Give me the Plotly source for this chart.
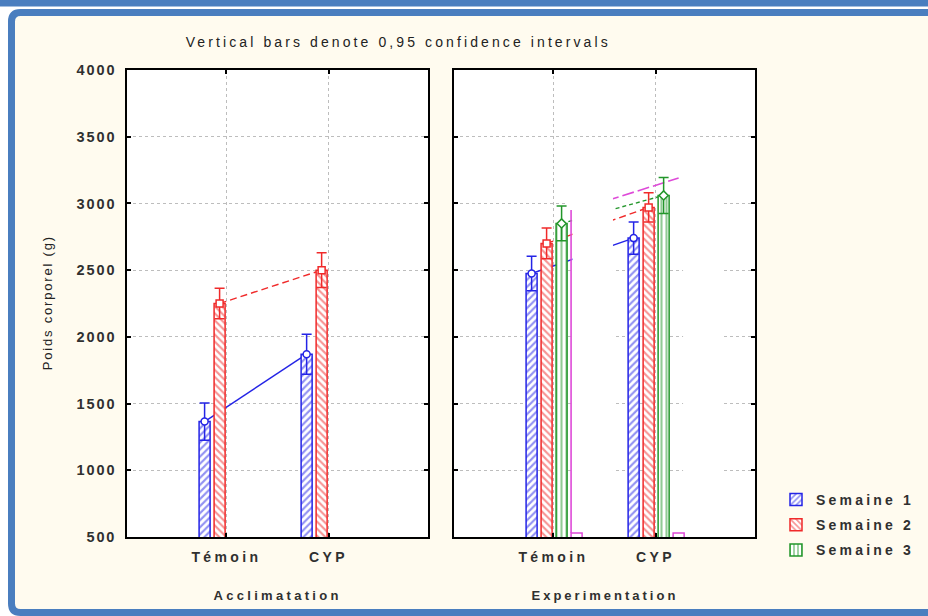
import json
import plotly.graph_objects as go

# ------------------------------------------------------------------ data
categories = ["Témoin", "CYP"]
series_names = ["Semaine 1", "Semaine 2", "Semaine 3"]

# Acclimatation panel (means and 0,95 CI half-widths)
accl_s1 = [1365, 1870]
accl_s2 = [2250, 2500]
accl_ci_s1 = [140, 150]
accl_ci_s2 = [115, 130]

# Experimentation panel
exp_s1 = [2475, 2740]
exp_s2 = [2700, 2970]
exp_s3 = [2850, 3060]
exp_ci_s1 = [130, 120]
exp_ci_s2 = [115, 110]
exp_ci_s3 = [130, 135]

# stray (magenta) 4th series visible in the Experimentation panel of the source
exp_s4_bar = [530, 530]
exp_s4_line = [2950, 3190]

y_ticks = [500, 1000, 1500, 2000, 2500, 3000, 3500, 4000]
panel_titles = ["Acclimatation", "Experimentation"]
chart_title = "Vertical bars denote 0,95 confidence intervals"
y_title = "Poids corporel (g)"

# ------------------------------------------------------------------ style
W, H = 928, 616
ML, MR, MT, MB = 127, 173, 70, 79
PW = W - ML - MR
PH = H - MT - MB


def PX(px):
    return (px - ML) / PW


def PY(py):
    return (H - MB - py) / PH


BLUE = "#2424e6"
RED = "#f02a2a"
GREEN = "#23962b"
MAGENTA = "#de4ad8"
FRAME = "#4a7ebf"
CREAM = "#fffbef"
FONT = "Liberation Sans, Arial, sans-serif"
TXT = "#303030"

SLOT = 0.147
SHIFT = 0.006
BAR_W = 0.108
XR = [-0.975, 1.975]
YR = [500, 4000]


def positions(k):
    return [i + (k - 1.5) * SLOT + SHIFT for i in range(len(categories))]


fig = go.Figure()

# (panel xaxis, base yaxis, overlay yaxis)
panels = [("x", "y", "y3"), ("x2", "y2", "y4")]

series_style = [
    dict(color=BLUE, shape="/", symbol="circle", dash="solid"),
    dict(color=RED, shape="\\", symbol="square", dash="7px,4px"),
    dict(color=GREEN, shape="|", symbol="diamond", dash="4px,3px"),
]

panel_data = [
    [(accl_s1, accl_ci_s1), (accl_s2, accl_ci_s2)],
    [(exp_s1, exp_ci_s1), (exp_s2, exp_ci_s2), (exp_s3, exp_ci_s3)],
]

# connecting lines (base subplot, drawn beneath the bars)
for p, (xa, ya, yo) in enumerate(panels):
    for k, (means, ci) in enumerate(panel_data[p]):
        st = series_style[k]
        fig.add_trace(go.Scatter(
            x=positions(k), y=means, mode="lines",
            line=dict(color=st["color"], width=1.4, dash=st["dash"]),
            xaxis=xa, yaxis=ya, showlegend=False, hoverinfo="skip"))

fig.add_trace(go.Scatter(
    x=positions(3), y=exp_s4_line, mode="lines",
    line=dict(color=MAGENTA, width=1.6, dash="12px,4px"),
    xaxis="x2", yaxis="y2", showlegend=False, hoverinfo="skip"))

# bars (overlay subplot, drawn above the lines)
for p, (xa, ya, yo) in enumerate(panels):
    for k, (means, ci) in enumerate(panel_data[p]):
        st = series_style[k]
        fig.add_trace(go.Bar(
            x=positions(k), y=means, width=BAR_W,
            marker=dict(color="white", line=dict(color=st["color"], width=1.5),
                        pattern=dict(shape=st["shape"], fgcolor=st["color"],
                                     bgcolor="white", size=5, solidity=0.42)),
            name=series_names[k], legendgroup=series_names[k],
            showlegend=(p == 1), xaxis=xa, yaxis=yo))

fig.add_trace(go.Bar(
    x=positions(3), y=exp_s4_bar, width=BAR_W,
    marker=dict(color="white", line=dict(color=MAGENTA, width=1.5)),
    showlegend=False, xaxis="x2", yaxis="y4"))

fig.add_trace(go.Scatter(
    x=[positions(3)[0] - BAR_W / 2] * 2, y=[exp_s4_bar[0], exp_s4_line[0]],
    mode="lines", line=dict(color=MAGENTA, width=1.6),
    showlegend=False, xaxis="x2", yaxis="y4", hoverinfo="skip"))

# means + confidence intervals
for p, (xa, ya, yo) in enumerate(panels):
    for k, (means, ci) in enumerate(panel_data[p]):
        st = series_style[k]
        fig.add_trace(go.Scatter(
            x=positions(k), y=means, mode="markers",
            marker=dict(symbol=st["symbol"], size=7, color="white",
                        line=dict(color=st["color"], width=1.5)),
            error_y=dict(type="data", array=ci, color=st["color"],
                         thickness=1.5, width=5),
            xaxis=xa, yaxis=yo, showlegend=False))

axis_common = dict(
    showline=True, linecolor="black", linewidth=1.5, mirror="ticks",
    ticks="inside", ticklen=4, tickwidth=1.5, tickcolor="black",
    showgrid=True, gridcolor="#bdbdbd", griddash="dot", gridwidth=1,
    zeroline=False, fixedrange=True,
)
ytickfont = dict(family=FONT, size=14.5, color=TXT, weight="bold")
xtickfont = dict(family=FONT, size=14, color=TXT, weight="bold")

dom_l = [0, PX(428)]
dom_r = [PX(454), 1]

fig.update_layout(
    width=W, height=H,
    margin=dict(l=ML, r=MR, t=MT, b=MB),
    paper_bgcolor="white", plot_bgcolor="white",
    barmode="overlay",
    xaxis=dict(domain=dom_l, range=XR, tickvals=[0, 1], ticktext=categories,
               anchor="y", tickfont=xtickfont, ticklabelstandoff=6, **axis_common),
    xaxis2=dict(domain=dom_r, range=XR, tickvals=[0, 1], ticktext=categories,
                anchor="y2", tickfont=xtickfont, ticklabelstandoff=6, **axis_common),
    yaxis=dict(domain=[0, 1], range=YR, tickvals=y_ticks, anchor="x",
               tickfont=ytickfont, ticklabelstandoff=6, **axis_common),
    yaxis2=dict(domain=[0, 1], range=YR, tickvals=y_ticks, anchor="x2",
                showticklabels=False, **axis_common),
    yaxis3=dict(range=YR, overlaying="y", anchor="x", visible=False, fixedrange=True),
    yaxis4=dict(range=YR, overlaying="y2", anchor="x2", visible=False, fixedrange=True),
    legend=dict(x=PX(776), y=PY(484), xanchor="left", yanchor="top",
                bgcolor="rgba(0,0,0,0)",
                font=dict(family=FONT, size=14, color=TXT, weight="bold"),
                tracegroupgap=4, itemwidth=30),
    showlegend=True,
)

# frame of the source screenshot
x0, y0, x1, y1, r = 11.5, 12.5, 960, 612.5, 9
frame_path = (
    f"M {PX(x0 + r)},{PY(y0)} L {PX(x1)},{PY(y0)} L {PX(x1)},{PY(y1)} "
    f"L {PX(x0 + r)},{PY(y1)} Q {PX(x0)},{PY(y1)} {PX(x0)},{PY(y1 - r)} "
    f"L {PX(x0)},{PY(y0 + r)} Q {PX(x0)},{PY(y0)} {PX(x0 + r)},{PY(y0)} Z"
)
fig.add_shape(type="rect", xref="paper", yref="paper",
              x0=PX(0), x1=PX(W), y0=PY(0), y1=PY(6.5),
              fillcolor=FRAME, line=dict(width=0), layer="below")
fig.add_shape(type="path", xref="paper", yref="paper", path=frame_path,
              fillcolor=CREAM, line=dict(color=FRAME, width=7), layer="below")
# white plot areas on top of the cream panel
for dom in (dom_l, dom_r):
    fig.add_shape(type="rect", xref="paper", yref="paper", x0=dom[0], x1=dom[1],
                  y0=0, y1=1, fillcolor="white", line=dict(width=0), layer="below")

# blank patches present in the source's Experimentation panel
fig.add_shape(type="rect", xref="x2", yref="y2", x0=0.186, x1=0.583, y0=560, y1=3250,
              fillcolor="white", line=dict(width=0), layer="above")
fig.add_shape(type="rect", xref="x2", yref="y2", x0=1.27, x1=1.662, y0=505, y1=3250,
              fillcolor="white", line=dict(width=0), layer="between")
fig.add_shape(type="rect", xref="x2", yref="y2", x0=0.132, x1=1.662, y0=2980, y1=3020,
              fillcolor="white", line=dict(width=0), layer="between")

# texts
fig.add_annotation(text=chart_title, xref="paper", yref="paper", x=PX(398), y=PY(42),
                   showarrow=False, xanchor="center", yanchor="middle",
                   font=dict(family=FONT, size=14, color="#222"))
fig.add_annotation(text=y_title, xref="paper", yref="paper", x=PX(47), y=PY(303),
                   showarrow=False, textangle=-90, xanchor="center", yanchor="middle",
                   font=dict(family=FONT, size=13, color="#222"))
for dom, t in zip([dom_l, dom_r], panel_titles):
    fig.add_annotation(text=t, xref="paper", yref="paper", x=(dom[0] + dom[1]) / 2,
                       y=PY(595), showarrow=False, xanchor="center", yanchor="middle",
                       font=dict(family=FONT, size=13, color=TXT, weight="bold"))

# the source (Statistica) draws its texts with wide letter spacing
spacing = {chart_title: 3.1, y_title: 1.8,
           panel_titles[0]: 3.3, panel_titles[1]: 3.0}
for c in categories:
    spacing[c] = 3.4
for s in series_names:
    spacing[s] = 3.2
for v in y_ticks:
    spacing[str(v)] = 1.9

post = (
    "document.body.style.margin='0';document.body.style.overflow='hidden';"
    "var sp=" + json.dumps(spacing) + ";"
    "document.querySelectorAll('svg text').forEach(function(t){"
    "var v=sp[t.textContent];if(v!==undefined){t.style.letterSpacing=v+'px';}});"
    "document.querySelectorAll('.legend, .legend *').forEach(function(e){"
    "e.removeAttribute('clip-path');});"
)

fig.write_html("out.html", post_script=post, config={"displayModeBar": False})
